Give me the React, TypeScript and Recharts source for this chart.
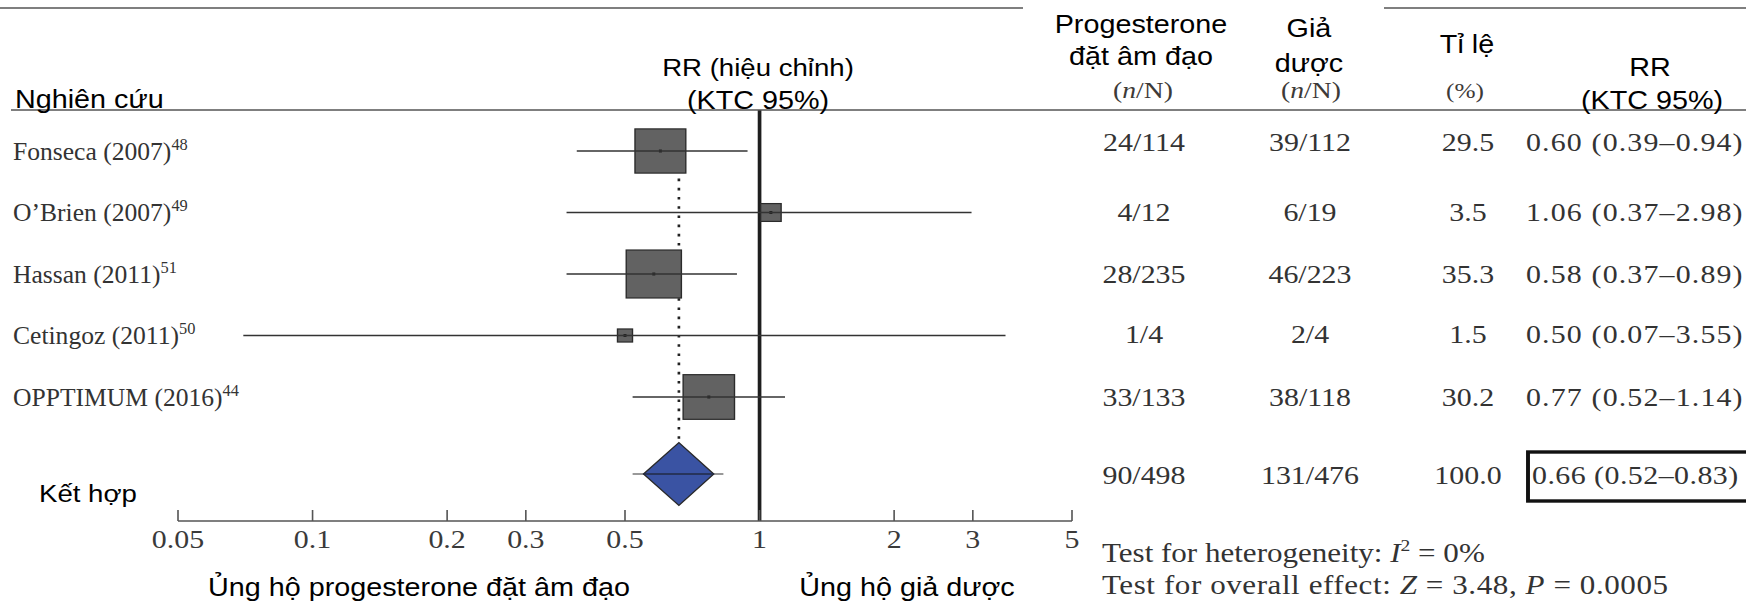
import { ScatterChart, Scatter, XAxis, YAxis, ReferenceLine } from "recharts";

// ---- data ----
const studyNames = ["Fonseca (2007)", "O’Brien (2007)", "Hassan (2011)", "Cetingoz (2011)", "OPPTIMUM (2016)"];
const studyRefs = ["48", "49", "51", "50", "44"];
const rrValues = [0.6, 1.06, 0.58, 0.5, 0.77];
const ciLow = [0.39, 0.37, 0.37, 0.07, 0.52];
const ciHigh = [0.94, 2.98, 0.89, 3.55, 1.14];
const weights = [29.5, 3.5, 35.3, 1.5, 30.2];
const progesteroneCounts = ["24/114", "4/12", "28/235", "1/4", "33/133"];
const placeboCounts = ["39/112", "6/19", "46/223", "2/4", "38/118"];

const pooledRR = 0.66;
const pooledLow = 0.52;
const pooledHigh = 0.83;
const pooledDiamond = [0.55, 0.79];
const pooledCounts = ["90/498", "131/476"];
const pooledWeight = 100;

const xTicks = [0.05, 0.1, 0.2, 0.3, 0.5, 1, 2, 3, 5];

// ---- layout (the original figure is stretched horizontally) ----
const W = 1518;
const H = 605;
const SX = 1746 / W;
const px = (v: number) => v / SX;
const ROW0 = 151;
const STEP = 61.5;
const PLOT_TOP = 110;
const AXIS_Y = 521;
const POOLED_ROW = (474 - ROW0) / STEP;
const DIAMOND_HALF = 31.5 / STEP;
const LABEL_SQUEEZE = 0.89;

const serif = "'Liberation Serif', 'Times New Roman', Times, serif";
const sans = "'Liberation Sans', Arial, Helvetica, sans-serif";
const ink = "#333";

const fmt = (v: number) => v.toFixed(2);
const rrLabel = (r: number, lo: number, hi: number) => `${fmt(r)} (${fmt(lo)}–${fmt(hi)})`;

const boxData = rrValues.map((r, i) => ({ x: r, y: i, w: weights[i] }));
const diamondData = [
  { x: pooledDiamond[0], y: POOLED_ROW },
  { x: pooledRR, y: POOLED_ROW - DIAMOND_HALF },
  { x: pooledDiamond[1], y: POOLED_ROW },
  { x: pooledRR, y: POOLED_ROW + DIAMOND_HALF },
];

const noDot = () => <g />;

function StudyBox(props: any) {
  const { cx, cy, payload } = props;
  const side = 7.4 * Math.sqrt(payload.w) + 4;
  return (
    <g>
      <rect x={cx - side / 2} y={cy - side / 2} width={side} height={side} fill="#626262" stroke="#2b2b2b" strokeWidth={1.2} />
      <rect x={cx - 1.3} y={cy - 1.5} width={2.6} height={3} fill="#222" />
    </g>
  );
}

function DiamondLine(props: any) {
  const pts = props.points ?? [];
  if (pts.length < 4) return null;
  return (
    <g>
      <polygon points={pts.map((p: any) => `${p.x},${p.y}`).join(" ")} fill="#3a53a3" stroke="#2a2a2a" strokeWidth={1.2} />
      <line x1={pts[0].x} y1={pts[0].y} x2={pts[2].x} y2={pts[2].y} stroke="#222a44" strokeWidth={1.4} />
    </g>
  );
}

function AxisTick(props: any) {
  const { x, y, payload } = props;
  return (
    <g>
      <line x1={x} x2={x} y1={y} y2={y - 11} stroke="#555" strokeWidth={1.4} />
      <text x={x} y={y + 27} textAnchor="middle" fontFamily={serif} fontSize={26} fill="#3a3a3a">
        {payload.value}
      </text>
    </g>
  );
}

const tableBase = [151, 221, 283, 343, 406];
const pooledBase = 484;
const colProg = px(1144);
const colPlac = px(1310);
const colWeight = px(1468);
const colRR = px(1526);

export default function App() {
  return (
    <div
      style={{
        position: "absolute",
        left: 0,
        top: 0,
        width: W,
        height: H,
        background: "#fff",
        transform: `scaleX(${SX})`,
        transformOrigin: "0 0",
      }}
    >
      <ScatterChart
        width={W}
        height={H}
        margin={{ top: PLOT_TOP, right: W - px(1072), bottom: H - AXIS_Y - 30, left: px(178) }}
      >
        <XAxis
          type="number"
          dataKey="x"
          scale="log"
          domain={[0.05, 5]}
          ticks={xTicks}
          interval={0}
          allowDataOverflow
          height={30}
          tickSize={0}
          tickMargin={0}
          tickLine={false}
          axisLine={{ stroke: "#555", strokeWidth: 1.5 }}
          tick={<AxisTick />}
        />
        <YAxis
          type="number"
          dataKey="y"
          domain={[(PLOT_TOP - ROW0) / STEP, (AXIS_Y - ROW0) / STEP]}
          allowDataOverflow
          reversed
          hide
          width={0}
        />
        <ReferenceLine x={1} stroke="#1e1e1e" strokeWidth={3.2} />
        <Scatter data={boxData} shape={<StudyBox />} isAnimationActive={false} />
        {rrValues.map((_, i) => (
          <Scatter
            key={studyNames[i]}
            data={[
              { x: ciLow[i], y: i },
              { x: ciHigh[i], y: i },
            ]}
            line={{ stroke: "#333", strokeWidth: 1.5 }}
            shape={noDot}
            isAnimationActive={false}
          />
        ))}
        <Scatter
          data={[
            { x: pooledLow, y: POOLED_ROW },
            { x: pooledHigh, y: POOLED_ROW },
          ]}
          line={{ stroke: "#777", strokeWidth: 1.5 }}
          shape={noDot}
          isAnimationActive={false}
        />
        <Scatter data={diamondData} line={<DiamondLine />} shape={noDot} isAnimationActive={false} />
        <ReferenceLine
          segment={[
            { x: pooledRR, y: 0 },
            { x: pooledRR, y: POOLED_ROW - DIAMOND_HALF },
          ]}
          stroke="#222"
          strokeWidth={2.3}
          strokeDasharray="2.6 6.6"
        />
      </ScatterChart>

      <svg width={W} height={H} style={{ position: "absolute", left: 0, top: 0, pointerEvents: "none" }}>
        {/* rules */}
        <line x1={0} x2={px(1023)} y1={8} y2={8} stroke="#555" strokeWidth={1.6} />
        <line x1={px(1384)} x2={W} y1={8} y2={8} stroke="#555" strokeWidth={1.6} />
        <line x1={px(11)} x2={W} y1={110} y2={110} stroke="#555" strokeWidth={1.6} />

        {/* header */}
        <g fontFamily={sans} fontSize={25} fill="#000">
          <text x={px(15)} y={108}>Nghiên cứu</text>
          <text x={px(758)} y={76} textAnchor="middle" fontSize={24}>RR (hiệu chỉnh)</text>
          <text x={px(758)} y={109} textAnchor="middle">(KTC 95%)</text>
          <text x={px(1141)} y={33} textAnchor="middle">Progesterone</text>
          <text x={px(1141)} y={65} textAnchor="middle">đặt âm đạo</text>
          <text x={px(1309)} y={37} textAnchor="middle">Giả</text>
          <text x={px(1309)} y={72} textAnchor="middle">dược</text>
          <text x={px(1467)} y={53} textAnchor="middle">Tỉ lệ</text>
          <text x={px(1650)} y={76} textAnchor="middle">RR</text>
          <text x={px(1652)} y={109} textAnchor="middle">(KTC 95%)</text>
        </g>
        <g fontFamily={serif} fontSize={24} fill="#3d3a38" textAnchor="middle">
          <text x={px(1143)} y={98}>
            (<tspan fontStyle="italic">n</tspan>/N)
          </text>
          <text x={px(1311)} y={98}>
            (<tspan fontStyle="italic">n</tspan>/N)
          </text>
          <text x={px(1465)} y={98} fontSize={22}>(%)</text>
        </g>

        {/* study labels */}
        <g fontFamily={serif} fontSize={25} fill={ink} transform={`scale(${LABEL_SQUEEZE} 1)`}>
          {studyNames.map((name, i) => (
            <text key={name} x={px(13) / LABEL_SQUEEZE} y={ROW0 + STEP * i + 9}>
              {name}
              <tspan dy={-10} fontSize={16}>{studyRefs[i]}</tspan>
            </text>
          ))}
        </g>
        <text x={px(39)} y={502} fontFamily={sans} fontSize={24} fill="#000">Kết hợp</text>

        {/* table */}
        <g fontFamily={serif} fontSize={26} fill={ink}>
          {studyNames.map((name, i) => (
            <g key={name}>
              <text x={colProg} y={tableBase[i]} textAnchor="middle">{progesteroneCounts[i]}</text>
              <text x={colPlac} y={tableBase[i]} textAnchor="middle">{placeboCounts[i]}</text>
              <text x={colWeight} y={tableBase[i]} textAnchor="middle">{weights[i].toFixed(1)}</text>
              <text x={colRR} y={tableBase[i]} letterSpacing={1}>
                {rrLabel(rrValues[i], ciLow[i], ciHigh[i])}
              </text>
            </g>
          ))}
          <text x={colProg} y={pooledBase} textAnchor="middle">{pooledCounts[0]}</text>
          <text x={colPlac} y={pooledBase} textAnchor="middle">{pooledCounts[1]}</text>
          <text x={colWeight} y={pooledBase} textAnchor="middle">{pooledWeight.toFixed(1)}</text>
          <text x={px(1532)} y={pooledBase} letterSpacing={0.4}>
            {rrLabel(pooledRR, pooledLow, pooledHigh)}
          </text>
        </g>
        <rect x={px(1528)} y={452} width={W} height={49} fill="none" stroke="#111" strokeWidth={3.4} />

        {/* tests */}
        <g fontFamily={serif} fontSize={27} fill={ink}>
          <text x={px(1102)} y={562}>
            Test for heterogeneity: <tspan fontStyle="italic">I</tspan>
            <tspan dy={-11} fontSize={17}>2</tspan>
            <tspan dy={11}> = 0%</tspan>
          </text>
          <text x={px(1102)} y={594} letterSpacing={0.5}>
            Test for overall effect: <tspan fontStyle="italic">Z</tspan> = 3.48, <tspan fontStyle="italic">P</tspan> = 0.0005
          </text>
        </g>

        {/* favours labels */}
        <g fontFamily={sans} fontSize={25} fill="#000">
          <text x={px(208)} y={596}>Ủng hộ progesterone đặt âm đạo</text>
          <text x={px(907)} y={596} textAnchor="middle">Ủng hộ giả dược</text>
        </g>
      </svg>
    </div>
  );
}
